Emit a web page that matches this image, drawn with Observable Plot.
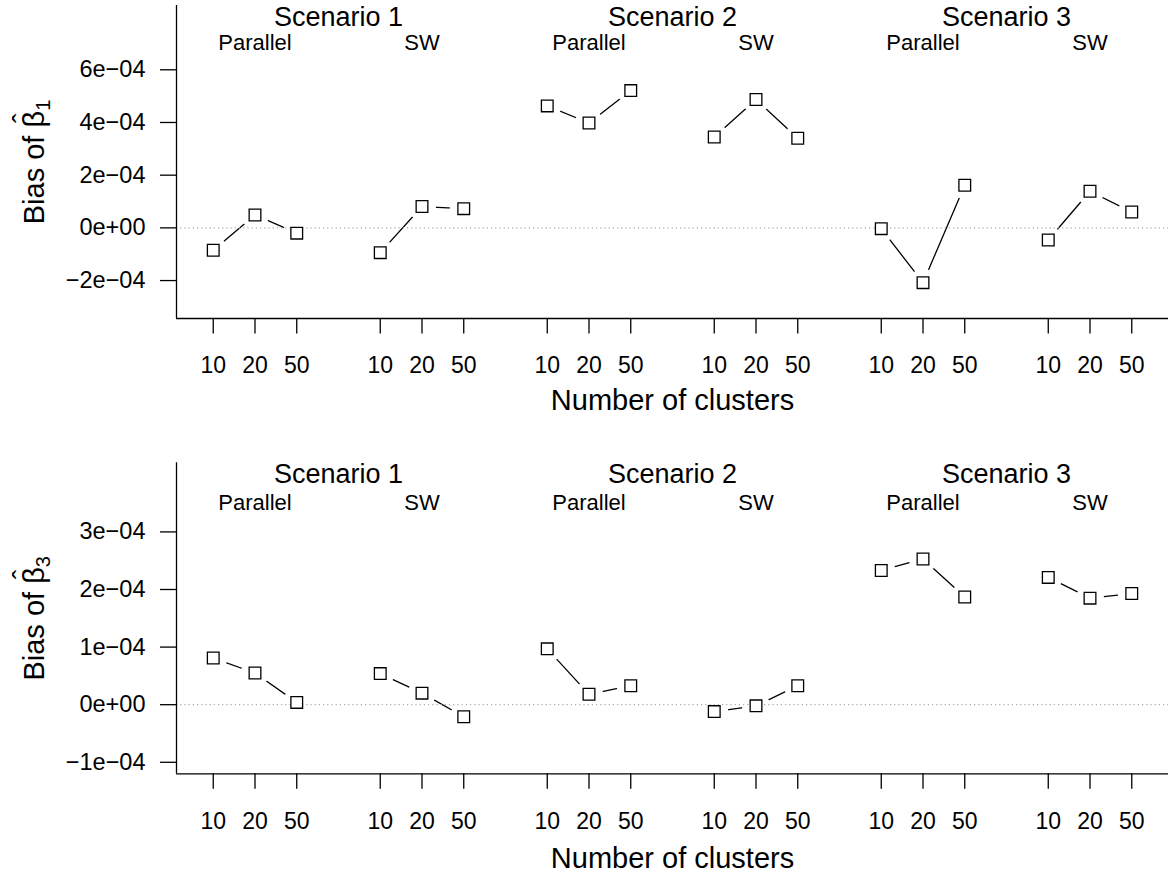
<!DOCTYPE html>
<html>
<head>
<meta charset="utf-8">
<script src="https://cdn.jsdelivr.net/npm/d3@7"></script>
<script src="https://cdn.jsdelivr.net/npm/@observablehq/plot@0.6"></script>
<style>
  html, body { margin: 0; padding: 0; background: #ffffff; }
  #chart svg { display: block; }
</style>
</head>
<body>
<div id="chart"></div>
<script>
// ---- data ----
const scenarios = ["Scenario 1", "Scenario 2", "Scenario 3"];
const designs = ["Parallel", "SW"];
const clusters = [10, 20, 50];

// order: Scenario 1 Parallel (10,20,50), Scenario 1 SW, Scenario 2 Parallel, ... Scenario 3 SW
const biasBeta1 = [
  -0.85e-4, 0.49e-4, -0.20e-4,
  -0.94e-4, 0.81e-4, 0.73e-4,
   4.63e-4, 3.98e-4, 5.21e-4,
   3.45e-4, 4.87e-4, 3.40e-4,
  -0.03e-4, -2.08e-4, 1.62e-4,
  -0.46e-4, 1.39e-4, 0.60e-4
];
const biasBeta3 = [
   0.81e-4, 0.55e-4, 0.04e-4,
   0.54e-4, 0.20e-4, -0.21e-4,
   0.97e-4, 0.18e-4, 0.33e-4,
  -0.12e-4, -0.02e-4, 0.33e-4,
   2.33e-4, 2.53e-4, 1.87e-4,
   2.21e-4, 1.85e-4, 1.93e-4
];

const yTicks1 = [-2e-4, 0, 2e-4, 4e-4, 6e-4];
const yTickLabels1 = ["\u22122e\u221204", "0e+00", "2e\u221204", "4e\u221204", "6e\u221204"];
const yTicks3 = [-1e-4, 0, 1e-4, 2e-4, 3e-4];
const yTickLabels3 = ["\u22121e\u221204", "0e+00", "1e\u221204", "2e\u221204", "3e\u221204"];

const xTitle = "Number of clusters";
const yTitleMain = "Bias of \u03B2";
const yTitleSub1 = "1";
const yTitleSub3 = "3";
const hatChar = "\u02C6";

// ---- build tables ----
function buildRows(values) {
  const rows = [];
  scenarios.forEach((s, si) => designs.forEach((d, di) => clusters.forEach((c, ci) => {
    rows.push({scenario: s, design: d, clusters: c,
               pos: si * 8 + di * 4 + ci + 1, group: si * 2 + di,
               value: values[si * 6 + di * 3 + ci]});
  })));
  return rows;
}
const xTicks = [];
const xTickLabels = [];
scenarios.forEach((s, si) => designs.forEach((d, di) => clusters.forEach((c, ci) => {
  xTicks.push(si * 8 + di * 4 + ci + 1);
  xTickLabels.push(String(c));
})));

const font = "'Liberation Sans', Arial, Helvetica, sans-serif";

function panel(opts) {
  const rows = buildRows(opts.values);
  const scenLabels = scenarios.map((s, si) => ({label: s, pos: si * 8 + 4, y: opts.scenY}));
  const desLabels = [];
  scenarios.forEach((s, si) => designs.forEach((d, di) =>
    desLabels.push({label: d, pos: si * 8 + di * 4 + 2, y: opts.desY})));
  return Plot.plot({
    width: 1168,
    height: opts.height,
    marginLeft: 176,
    marginRight: 0,
    marginTop: opts.marginTop,
    marginBottom: opts.marginBottom,
    style: {fontFamily: font, fontSize: "22px", color: "black", background: "white", overflow: "visible"},
    x: {domain: [0.12, 23.88]},
    y: {domain: opts.yDomain},
    marks: [
      Plot.line(rows, {x: "pos", y: "value", z: "group", stroke: "black", strokeWidth: 1.3}),
      Plot.dot(rows, {x: "pos", y: "value", r: 14, fill: "white", stroke: "none"}),
      Plot.ruleY([0], {stroke: "#acacac", strokeWidth: 1.2, strokeDasharray: "1.2,3"}),
      Plot.dot(rows, {x: "pos", y: "value", symbol: "square", r: 6.6, fill: "white", stroke: "black", strokeWidth: 1.3}),
      Plot.ruleX([0.12], {stroke: "black", strokeWidth: 1.3}),
      Plot.ruleY([opts.yDomain[0]], {stroke: "black", strokeWidth: 1.3}),
      Plot.axisY({ticks: opts.yTicks, tickFormat: d => opts.yLabels[opts.yTicks.indexOf(d)],
                  tickSize: 16, tickPadding: 15, fontSize: 23.5, strokeWidth: 1.3, label: null}),
      Plot.axisX({ticks: xTicks, tickFormat: d => xTickLabels[xTicks.indexOf(d)],
                  tickSize: 15.5, tickPadding: 23, fontSize: 23, strokeWidth: 1.3, label: null}),
      Plot.text(scenLabels, {x: "pos", y: "y", text: "label", fontSize: 27}),
      Plot.text(desLabels, {x: "pos", y: "y", text: "label", fontSize: 22}),
      Plot.text([xTitle], {frameAnchor: "bottom", lineAnchor: "middle", textAnchor: "middle", dy: opts.xTitleDy, fontSize: 29}),
      Plot.text([yTitleMain], {frameAnchor: "left", lineAnchor: "middle", textAnchor: "middle", dx: -142, rotate: -90, fontSize: 29})
    ]
  });
}

// adds the subscript and the hat above beta to the y-axis title
function decorateTitle(svg, sub) {
  const el = d3.select(svg).selectAll("text")
    .filter(function() { return this.textContent === yTitleMain; }).node();
  if (!el) return;
  d3.select(el).append("tspan").attr("font-size", 20).attr("dy", 6).text(sub);
  const idx = yTitleMain.indexOf("\u03B2");
  try {
    const s = el.getStartPositionOfChar(idx);
    const e = el.getEndPositionOfChar(idx);
    d3.select(el).append("tspan")
      .attr("x", (s.x + e.x) / 2 + 1)
      .attr("y", s.y - 11)
      .attr("text-anchor", "middle")
      .attr("font-size", 29)
      .text(hatChar);
  } catch (err) {}
}

const chart = document.getElementById("chart");
const p1 = panel({
  values: biasBeta1, height: 438, marginTop: 5, marginBottom: 120,
  yDomain: [-3.44e-4, 8.44e-4], yTicks: yTicks1, yLabels: yTickLabels1,
  scenY: 8e-4, desY: 7e-4, xTitleDy: 82
});
const p3 = panel({
  values: biasBeta3, height: 439, marginTop: 24.3, marginBottom: 103.7,
  yDomain: [-1.2e-4, 4.2e-4], yTicks: yTicks3, yLabels: yTickLabels3,
  scenY: 4e-4, desY: 3.5e-4, xTitleDy: 85
});
chart.append(p1);
chart.append(p3);
decorateTitle(p1, yTitleSub1);
decorateTitle(p3, yTitleSub3);
</script>
</body>
</html>
